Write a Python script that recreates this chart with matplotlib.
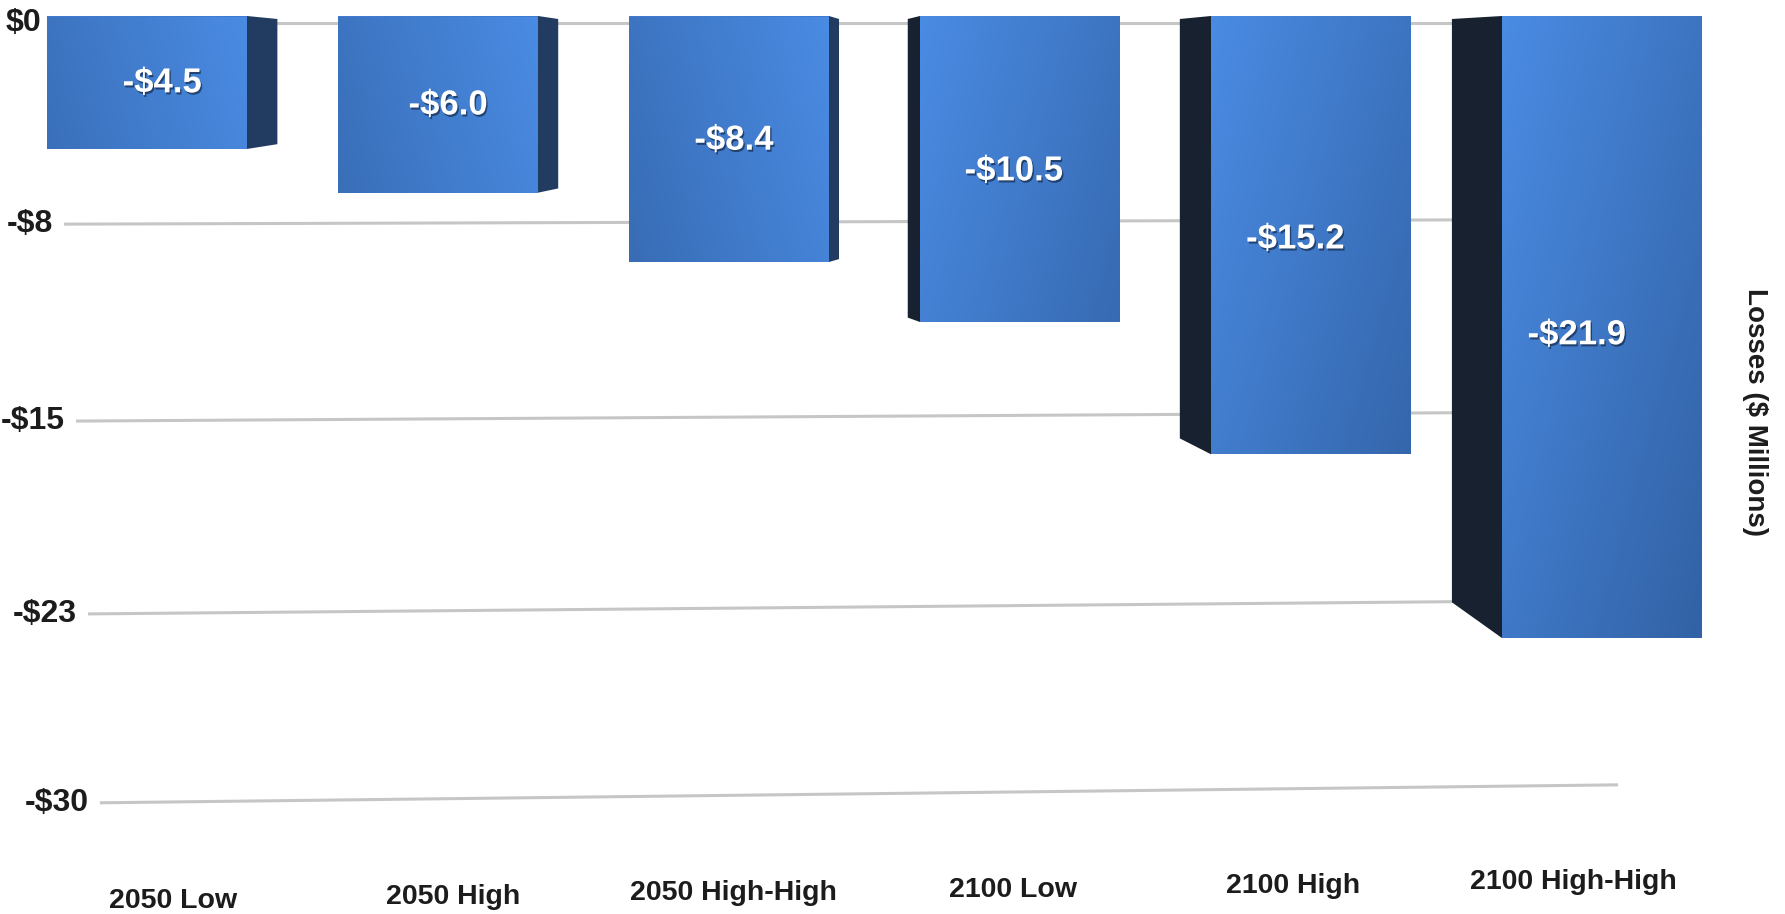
import numpy as np
import matplotlib.pyplot as plt
from matplotlib.patches import Polygon
from matplotlib.colors import to_rgb
import matplotlib.patheffects as pe

categories = ["2050 Low", "2050 High", "2050 High-High",
              "2100 Low", "2100 High", "2100 High-High"]
losses = [-4.5, -6.0, -8.4, -10.5, -15.2, -21.9]
grid_values = [0, -7.5, -15, -22.5, -30]
axis_title = "Losses ($ Millions)"

W, H = 1785, 914
plt.rcParams['font.family'] = ['Liberation Sans', 'DejaVu Sans']
plt.rcParams['font.weight'] = 'bold'
TEXT = '#1c1c1c'

fig = plt.figure(figsize=(W / 100, H / 100), dpi=100)


def persp(c):
    # values further below the top get squeezed a little
    def fwd(v):
        v = np.asarray(v, dtype=float)
        return v / (1 - c * v)

    def inv(f):
        f = np.asarray(f, dtype=float)
        return f / (1 + c * f)
    return fwd, inv


# ---- back wall (gridlines, tick labels, category names) ----
wall = fig.add_axes([0, 0, 1, 1])
wall.set_axis_off()
wfwd, winv = persp(0.0014)
wall.set_yscale('function', functions=(wfwd, winv))
wall_px, wall_top = 27.09, 23
wall_x0, wall_step = 173, 280
wall.set_xlim(-wall_x0 / wall_step, (W - wall_x0) / wall_step)
wall.set_ylim(float(winv(-(H - wall_top) / wall_px)),
              float(winv(wall_top / wall_px)))


def on_wall(x, v):
    # wall recedes to the right, so lines rise slightly
    return float(winv(wfwd(v) * (1 - 0.00425 * (x + 0.3))))


for v in grid_values:
    t = -v
    xl = -0.432 + 0.0057 * t
    xr = 5.38 - 0.0073 * t
    wall.plot([xl, xr], [on_wall(xl, v), on_wall(xr, v)],
              color='#c6c6c6', lw=2.2, solid_capstyle='butt')
    lab = "$0" if t == 0 else "-$%d" % int(t + 0.5)
    wall.text(xl - 0.04, on_wall(xl, v), lab, ha='right', va='center',
              fontsize=23, color=TEXT)

lab_v = float(winv(-(902 - wall_top) / wall_px))
for i, name in enumerate(categories):
    wall.text(i, on_wall(i, lab_v), name, ha='center', va='center',
              fontsize=20.5, color=TEXT)

# ---- bars in the front plane ----
front = fig.add_axes([0, 0, 1, 1])
front.set_axis_off()
front.patch.set_alpha(0)
ffwd, finv = persp(0.00234)
front.set_yscale('function', functions=(ffwd, finv))
bar_px, bar_top = 29.86, 16
step, x0 = 291, 147
bw = 200 / step
vp = 2.47  # horizontal vanishing position, in bar units

light = np.array(to_rgb('#4a8be3'))
dark = np.array(to_rgb('#3262a5'))

for i, v in enumerate(losses):
    rect = front.bar(i, v, width=bw, color='#3f7bd0', zorder=2)[0]

    # shading: brighter on the side facing the middle, darker lower down
    xs = np.linspace(0, 1, 60)
    ys = np.linspace(0, 1, 60)[:, None]
    xd = 1 - xs if i < vp else xs
    s = np.clip(0.55 * xd[None, :] + 0.45 * ys * min(1, abs(v) / 20), 0, 1)
    img = light * (1 - s[..., None]) + dark * s[..., None]
    im = front.imshow(img, extent=(i - bw / 2, i + bw / 2, v, 0),
                      aspect='auto', zorder=3, interpolation='bilinear')
    im.set_clip_path(rect)

    # side face
    if i < vp:
        edge = i + bw / 2
        depth = 0.03 + 0.035 * (vp - edge)
        back = edge + depth
        face = '#223b60'
        mid = (i - bw / 2 + back) / 2
    else:
        edge = i - bw / 2
        depth = 0.03 + 0.065 * (edge - vp)
        back = edge - depth
        face = '#17212f'
        mid = (back + i + bw / 2) / 2
    shrink = 1 - 0.35 * depth
    side = Polygon([(edge, 0), (back, -0.1), (back, v * shrink), (edge, v)],
                   closed=True, facecolor=face, edgecolor='none', zorder=2)
    front.add_patch(side)

    front.text(mid, v / 2, "-$%.1f" % abs(v), ha='center', va='center',
               fontsize=25, color='white', zorder=5,
               path_effects=[pe.withSimplePatchShadow(offset=(1, -1.5),
                                                      shadow_rgbFace='#0e1c33',
                                                      alpha=0.6)])

front.set_xlim(-x0 / step, (W - x0) / step)
front.set_ylim(float(finv(-(H - bar_top) / bar_px)),
               float(finv(bar_top / bar_px)))

fig.text(1755 / W, 1 - 412 / H, axis_title, rotation=270, ha='center',
         va='center', fontsize=20, color=TEXT)

fig.savefig('out.png', dpi=100)
